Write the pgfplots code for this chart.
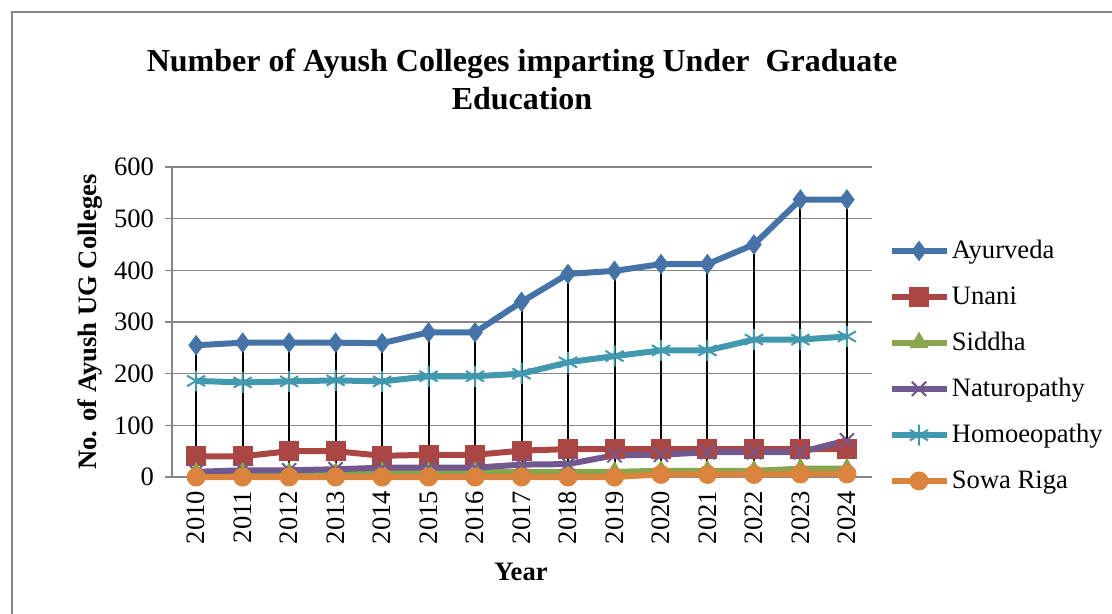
\documentclass[border=0pt]{standalone}
\usepackage{fontspec}
\setmainfont{Liberation Serif}
\usepackage{pgfplots}
\pgfplotsset{compat=1.18}
\definecolor{cAy}{HTML}{4572A7}
\definecolor{cUn}{HTML}{AA4643}
\definecolor{cSi}{HTML}{89A54E}
\definecolor{cNa}{HTML}{71588F}
\definecolor{cHo}{HTML}{4198AF}
\definecolor{cSo}{HTML}{DB843D}
\definecolor{cGr}{HTML}{868686}
\begin{document}
\begin{tikzpicture}
\useasboundingbox (0,0) rectangle (556pt,-307pt);
\draw[color=cGr, line width=0.8pt] (6pt,-310pt) -- (6pt,-6pt) -- (560pt,-6pt);
\node[font=\fontsize{16}{19}\bfseries\selectfont, anchor=base] at (261pt,-36pt) {Number of Ayush Colleges imparting Under\ \ Graduate};
\node[font=\fontsize{16}{19}\bfseries\selectfont, anchor=base] at (261pt,-55pt) {Education};
\begin{axis}[
  at={(86pt,-238.5pt)}, anchor=south west,
  scale only axis, width=350pt, height=155pt,
  xmin=2009.48, xmax=2024.54, ymin=0, ymax=600,
  ytick={0,100,...,600}, xtick={2010,2011,...,2024},
  axis lines*=left,
  axis line style={cGr, line width=0.8pt},
  ymajorgrids, grid style={cGr, line width=0.8pt},
  tick align=outside,
  major tick length=3.5pt,
  y tick style={cGr, line width=0.8pt},
  x tick style={draw=none},
  xticklabel style={rotate=90, anchor=east},
  yticklabel style={xshift=-2pt},
  /pgf/number format/1000 sep={},
  /pgf/number format/assume math mode=true,
  tick label style={font=\fontsize{13.3}{16}\selectfont},
  label style={font=\fontsize{13.3}{16}\bfseries\selectfont},
  xlabel={Year}, ylabel={No. of Ayush UG Colleges},
  xlabel style={at={(axis description cs:0.4986,-0.306)}, anchor=center},
  ylabel style={at={(axis description cs:-0.117,0.5)}, anchor=center, rotate=0},
  clip=false,
  legend style={at={(1.023,0.778)}, anchor=north west, draw=none, fill=none,
    font=\fontsize{13.3}{16}\selectfont, row sep=8.4pt, inner sep=0pt,
    nodes={inner xsep=1.2pt}},
  legend cell align=left,
  legend image code/.code={\draw[mark repeat=2,mark phase=2,#1] plot coordinates {(0pt,0pt) (13.75pt,0pt) (27.5pt,0pt)};},
  every axis plot/.append style={line width=3pt},
]
\addplot[color=cAy, mark=diamond*, mark size=4.75pt, mark options={solid, fill=cAy, line width=0.5pt}] coordinates {
(2010,255)(2011,260)(2012,260)(2013,260)(2014,259)(2015,280)(2016,280)(2017,339)(2018,393)(2019,399)(2020,412)(2021,412)(2022,450)(2023,537)(2024,537)};
\addlegendentry{Ayurveda}
\addplot[color=cUn, mark=square*, mark size=4.75pt, mark options={solid, fill=cUn, line width=0.5pt}] coordinates {
(2010,40)(2011,40)(2012,50)(2013,50)(2014,41)(2015,43)(2016,43)(2017,51)(2018,54)(2019,54)(2020,54)(2021,54)(2022,54)(2023,54)(2024,54)};
\addlegendentry{Unani}
\addplot[color=cSi, mark=triangle*, mark size=5pt, mark options={solid, fill=cSi, line width=0.5pt}] coordinates {
(2010,8)(2011,8)(2012,8)(2013,8)(2014,9)(2015,9)(2016,9)(2017,10)(2018,10)(2019,10)(2020,12)(2021,12)(2022,12)(2023,16)(2024,16)};
\addlegendentry{Siddha}
\addplot[color=cNa, mark=x, mark size=5pt, mark options={solid, line width=1pt}] coordinates {
(2010,10)(2011,13)(2012,13)(2013,15)(2014,18)(2015,18)(2016,18)(2017,24)(2018,25)(2019,42)(2020,43)(2021,48)(2022,48)(2023,48)(2024,71)};
\addlegendentry{Naturopathy}
\addplot[color=cHo, mark=asterisk, mark size=5.25pt, mark options={solid, line width=1pt}] coordinates {
(2010,186)(2011,183)(2012,185)(2013,187)(2014,185)(2015,195)(2016,195)(2017,200)(2018,222)(2019,234)(2020,245)(2021,245)(2022,266)(2023,266)(2024,272)};
\addlegendentry{Homoeopathy}
\addplot[color=cSo, mark=*, mark size=4.5pt, mark options={solid, fill=cSo, line width=0.5pt}] coordinates {
(2010,0)(2011,0)(2012,0)(2013,0)(2014,0)(2015,0)(2016,0)(2017,0)(2018,0)(2019,0)(2020,5)(2021,5)(2022,5)(2023,6)(2024,6)};
\addlegendentry{Sowa Riga}
\addplot[ycomb, black, line width=1pt, no marks, forget plot] coordinates {
(2010,255)(2011,260)(2012,260)(2013,260)(2014,259)(2015,280)(2016,280)(2017,339)(2018,393)(2019,399)(2020,412)(2021,412)(2022,450)(2023,537)(2024,537)};
\end{axis}
\end{tikzpicture}
\end{document}
